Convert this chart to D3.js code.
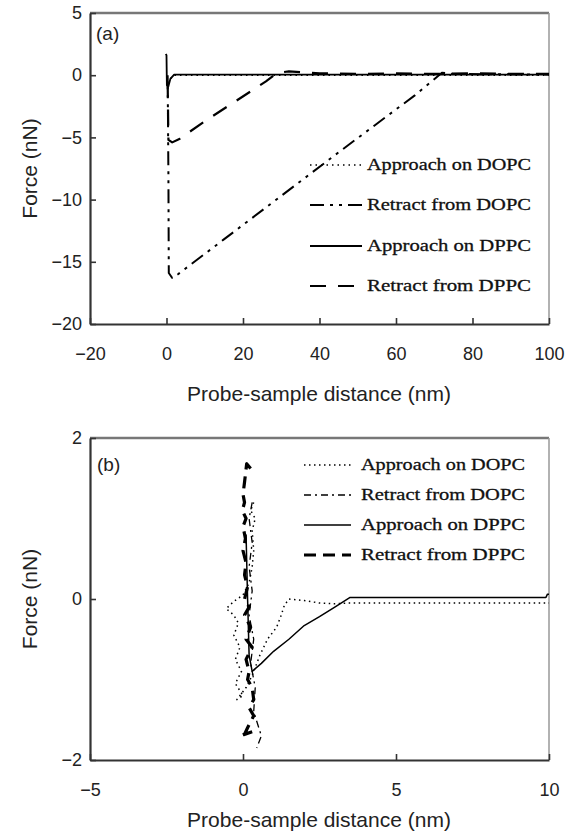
<!DOCTYPE html>
<html><head><meta charset="utf-8">
<script src="https://cdn.jsdelivr.net/npm/d3@7"></script>
<style>body{margin:0;background:#fff}svg{display:block}</style>
</head><body>
<svg id="c" width="579" height="834"></svg>
<script>
// ---------- DATA ----------
const seriesNames = ["Approach on DOPC", "Retract from DOPC", "Approach on DPPC", "Retract from DPPC"];
const xTicksA = [-20, 0, 20, 40, 60, 80, 100];
const yTicksA = [5, 0, -5, -10, -15, -20];
const xTicksB = [-5, 0, 5, 10];
const yTicksB = [2, 0, -2];

// panel (a) [distance nm, force nN]
const aApproachDOPC = [[0,-0.6],[1,-0.3],[2,0.0],[5,0.0],[100,0.0]];
const aRetractDOPC = [[0.3,0.0],[0.5,-8],[0.6,-15.9],[1.5,-16.3],[3,-16.0],[15,-13.2],[30,-9.7],[45,-6.2],[55,-3.9],[65,-1.6],[72,0.2],[75,0.1],[100,0.05]];
const aApproachDPPC = [[-0.2,1.7],[0,1.6],[0.1,-0.8],[0.5,-0.9],[1,-0.3],[2,0.05],[100,0.05]];
const aRetractDPPC = [[0.3,-0.5],[0.5,-5.2],[1.5,-5.4],[3.5,-5.1],[10,-3.7],[16,-2.5],[22,-1.3],[26,-0.5],[29,0.2],[32,0.3],[40,0.15],[50,0.1],[60,0.15],[70,0.1],[80,0.15],[90,0.1],[100,0.1]];

// panel (b)
const bApproachDOPC = [[0.35,1.2],[0.25,1.1],[0.4,1.0],[0.3,0.85],[0.35,0.6],[0.3,0.4],[0.2,0.2],[0.0,0.05],[-0.3,-0.03],[-0.55,-0.12],[-0.3,-0.2],[-0.15,-0.3],[-0.3,-0.45],[-0.1,-0.6],[-0.25,-0.75],[-0.05,-0.9],[-0.25,-1.05],[0.0,-1.2],[-0.2,-1.25],[0.1,-1.1],[0.3,-0.95],[0.55,-0.7],[0.8,-0.5],[1.1,-0.35],[1.25,-0.2],[1.35,-0.08],[1.5,0.0],[2.0,-0.02],[2.5,-0.05],[3.0,-0.06],[3.4,-0.05],[10,-0.05]];
const bRetractDOPC = [[0.3,1.2],[0.2,1.0],[0.3,0.7],[0.2,0.4],[0.3,0.1],[0.2,-0.2],[0.35,-0.5],[0.25,-0.8],[0.4,-1.1],[0.35,-1.4],[0.6,-1.7],[0.45,-1.85]];
const bApproachDPPC = [[0.1,0.8],[0.15,0.0],[0.2,-0.7],[0.3,-0.9],[0.6,-0.8],[1.0,-0.65],[1.5,-0.5],[2.0,-0.33],[2.5,-0.22],[3.0,-0.1],[3.5,0.02],[9.9,0.02],[9.95,0.06],[10,0.06]];
const bRetractDPPC = [[0.25,1.62],[0.12,1.68],[0.05,1.45],[0.0,1.3],[0.05,1.2],[-0.02,1.1],[0.1,1.0],[0.0,0.9],[0.08,0.75],[0.0,0.6],[0.1,0.45],[0.05,0.3],[0.15,0.15],[0.05,0.0],[0.2,-0.1],[0.05,-0.2],[0.25,-0.35],[0.1,-0.5],[0.3,-0.6],[0.1,-0.75],[0.2,-0.9],[0.15,-1.0],[0.3,-1.1],[0.35,-1.25],[0.2,-1.35],[0.35,-1.45],[0.15,-1.6],[0.05,-1.68],[-0.1,-1.7],[0.3,-1.65]];

// ---------- DRAW ----------
const svg = d3.select("#c");
const styleA = [
  {dash:"1.5,4", w:1.5},
  {dash:"14,6,3,6,3,6", w:2},
  {dash:null, w:1.8},
  {dash:"16,12", w:2.2}
];
const styleB = [
  {dash:"1.5,3.5", w:1.5},
  {dash:"7,4,2,4", w:1.3},
  {dash:null, w:1.5},
  {dash:"12,7", w:3.2}
];
const SANS = "Liberation Sans, Arial, sans-serif";

function panel(o){
  const x = d3.scaleLinear().domain(o.xd).range([90,549]);
  const y = d3.scaleLinear().domain(o.yd).range([o.bottom,o.top]);
  const g = svg.append("g");
  // frame
  g.append("line").attr("x1",90).attr("x2",549).attr("y1",o.top).attr("y2",o.top).attr("stroke","#777").attr("stroke-width",2.5);
  g.append("line").attr("x1",549).attr("x2",549).attr("y1",o.top).attr("y2",o.bottom).attr("stroke","#999").attr("stroke-width",1.5);
  const xa = g.append("g").attr("transform",`translate(0,${o.bottom})`)
    .call(d3.axisBottom(x).tickValues(o.xt).tickSizeInner(-6).tickSizeOuter(0).tickPadding(23).tickFormat(d=>String(d).replace("-","\u2212")));
  const ya = g.append("g").attr("transform",`translate(90,0)`)
    .call(d3.axisLeft(y).tickValues(o.yt).tickSizeInner(-6).tickSizeOuter(0).tickPadding(8).tickFormat(d=>String(d).replace("-","\u2212")));
  [xa,ya].forEach(a=>{
    a.select(".domain").attr("stroke","#333").attr("stroke-width",2.2);
    a.selectAll(".tick line").attr("stroke","#333").attr("stroke-width",1.6);
    a.selectAll("text").attr("font-family",SANS).attr("font-size",18).attr("fill","#222");
  });
  const line = d3.line().x(d=>x(d[0])).y(d=>y(d[1]));
  o.series.forEach((s,i)=>{
    g.append("path").datum(s).attr("d",line).attr("fill","none").attr("stroke","#000")
      .attr("stroke-width",o.styles[i].w).attr("stroke-dasharray",o.styles[i].dash)
      .attr("stroke-linejoin","round");
  });
  // legend
  seriesNames.forEach((n,i)=>{
    const ly = o.legY[i];
    g.append("line").attr("x1",o.legX1).attr("x2",o.legX2).attr("y1",ly).attr("y2",ly)
      .attr("stroke","#000").attr("stroke-width",o.styles[i].w).attr("stroke-dasharray",o.styles[i].dash);
    g.append("text").attr("x",o.legTX).attr("y",ly+5).text(n)
      .attr("font-family","Liberation Serif, Times New Roman, serif").attr("font-size",17)
      .attr("textLength",o.legTW).attr("lengthAdjust","spacingAndGlyphs").attr("fill","#111")
      .attr("stroke","#111").attr("stroke-width",0.3);
  });
  g.append("text").attr("x",o.labX).attr("y",o.labY).text(o.label)
    .attr("font-family",SANS).attr("font-size",19).attr("fill","#222");
  g.append("text").attr("x",319).attr("y",o.xTitleY).attr("text-anchor","middle").text("Probe-sample distance (nm)")
    .attr("font-family",SANS).attr("font-size",21).attr("fill","#222");
  g.append("text").attr("transform",`translate(37,${(o.top+o.bottom)/2}) rotate(-90)`).attr("text-anchor","middle").text("Force (nN)")
    .attr("font-family",SANS).attr("font-size",21).attr("fill","#222");
}

panel({xd:[-20,100], yd:[-20,5], top:13, bottom:324, xt:xTicksA, yt:yTicksA,
  series:[aApproachDOPC,aRetractDOPC,aApproachDPPC,aRetractDPPC], styles:styleA,
  legY:[165,205,246,286], legX1:310, legX2:362, legTX:367, legTW:164,
  label:"(a)", labX:96, labY:40, xTitleY:401});
panel({xd:[-5,10], yd:[-2,2], top:438, bottom:760, xt:xTicksB, yt:yTicksB,
  series:[bApproachDOPC,bRetractDOPC,bApproachDPPC,bRetractDPPC], styles:styleB,
  legY:[465,495,525,555], legX1:304, legX2:351, legTX:361, legTW:164,
  label:"(b)", labX:97, labY:471, xTitleY:827});
</script>
</body></html>
